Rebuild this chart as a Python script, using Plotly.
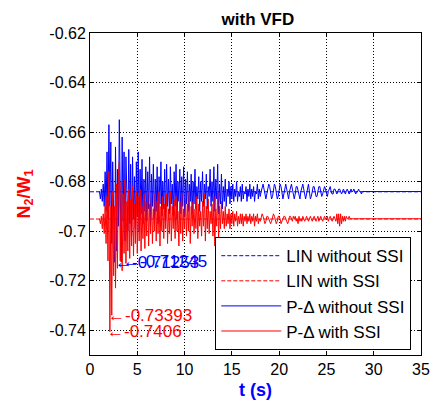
import numpy as np
import plotly.graph_objects as go

# Respuesta N2/W1 con VFD: modelos lineales y P-Delta, con y sin SSI
t_lin = [0, 35]
lin_without_ssi = [-0.6841, -0.6841]
lin_with_ssi = [-0.6951, -0.6951]

t0 = 1.0
dt = 0.1

pd_without_ssi = [
    -0.684, -0.687, -0.683, -0.688, -0.681, -0.690, -0.676, -0.692, -0.668, -0.695,
    -0.657, -0.690, -0.664, -0.705, -0.672, -0.700, -0.71253, -0.666, -0.708, -0.675,
    -0.698, -0.655, -0.702, -0.71245, -0.662, -0.696, -0.668, -0.704, -0.670, -0.694,
    -0.700, -0.667, -0.697, -0.673, -0.702, -0.670, -0.695, -0.678, -0.699, -0.672,
    -0.694, -0.668, -0.700, -0.675, -0.693, -0.671, -0.697, -0.679, -0.692, -0.674,
    -0.696, -0.676, -0.691, -0.670, -0.698, -0.677, -0.690, -0.673, -0.695, -0.679,
    -0.692, -0.674, -0.697, -0.678, -0.689, -0.672, -0.694, -0.680, -0.691, -0.675,
    -0.696, -0.673, -0.690, -0.679, -0.693, -0.674, -0.689, -0.681, -0.694, -0.676,
    -0.690, -0.673, -0.695, -0.680, -0.688, -0.675, -0.693, -0.678, -0.690, -0.674,
    -0.694, -0.679, -0.689, -0.676, -0.692, -0.681, -0.688, -0.677, -0.693, -0.680,
    -0.689, -0.675, -0.691, -0.682, -0.687, -0.678, -0.692, -0.680, -0.688, -0.676,
    -0.690, -0.681, -0.687, -0.677, -0.691, -0.682, -0.686, -0.675, -0.690, -0.680,
    -0.688, -0.674, -0.692, -0.679, -0.687, -0.673, -0.693, -0.681, -0.689, -0.677,
    -0.691, -0.682, -0.688, -0.679, -0.690, -0.683, -0.686, -0.680, -0.689, -0.682,
    -0.687, -0.681, -0.688, -0.683, -0.686, -0.680, -0.688, -0.684, -0.686, -0.682,
    -0.688, -0.681, -0.687, -0.684, -0.685, -0.682, -0.688, -0.683, -0.686, -0.681,
    -0.687, -0.683, -0.686, -0.682, -0.688, -0.684, -0.685, -0.681, -0.687, -0.683,
    -0.686, -0.684, -0.682, -0.681, -0.683, -0.686, -0.687, -0.685, -0.682, -0.681,
    -0.682, -0.684, -0.687, -0.686, -0.684, -0.681, -0.682, -0.685, -0.687, -0.686,
    -0.683, -0.681, -0.682, -0.685, -0.687, -0.685, -0.682, -0.681, -0.683, -0.686,
    -0.687, -0.684, -0.682, -0.681, -0.683, -0.686, -0.687, -0.685, -0.682, -0.682,
    -0.684, -0.686, -0.687, -0.684, -0.682, -0.681, -0.683, -0.686, -0.687, -0.685,
    -0.682, -0.681, -0.684, -0.687, -0.686, -0.684, -0.682, -0.682, -0.684, -0.686,
    -0.686, -0.684, -0.682, -0.682, -0.684, -0.686, -0.685, -0.683, -0.682, -0.683,
    -0.685, -0.686, -0.684, -0.683, -0.682, -0.684, -0.685, -0.685, -0.683, -0.683,
    -0.684, -0.685, -0.684, -0.683, -0.683, -0.684, -0.685, -0.684, -0.683, -0.684,
    -0.685, -0.684, -0.683, -0.684, -0.685, -0.684, -0.683, -0.684, -0.684, -0.683,
    -0.684, -0.685, -0.684, -0.684, -0.683, -0.684, -0.684, -0.685, -0.684, -0.684,
    -0.684,
]

pd_with_ssi = [
    -0.695, -0.697, -0.694, -0.699, -0.693, -0.701, -0.690, -0.705, -0.686, -0.712,
    -0.676, -0.7406, -0.690, -0.73393, -0.684, -0.718, -0.690, -0.723, -0.681, -0.715,
    -0.678, -0.672, -0.712, -0.680, -0.716, -0.685, -0.709, -0.679, -0.713, -0.688,
    -0.708, -0.683, -0.711, -0.687, -0.706, -0.682, -0.710, -0.689, -0.705, -0.684,
    -0.709, -0.686, -0.704, -0.683, -0.708, -0.690, -0.703, -0.685, -0.707, -0.688,
    -0.702, -0.684, -0.706, -0.689, -0.701, -0.686, -0.705, -0.691, -0.700, -0.685,
    -0.704, -0.688, -0.701, -0.684, -0.706, -0.690, -0.700, -0.686, -0.703, -0.689,
    -0.699, -0.685, -0.705, -0.691, -0.701, -0.684, -0.704, -0.690, -0.699, -0.687,
    -0.703, -0.686, -0.700, -0.692, -0.706, -0.688, -0.701, -0.685, -0.704, -0.691,
    -0.699, -0.687, -0.702, -0.689, -0.700, -0.684, -0.705, -0.690, -0.698, -0.688,
    -0.701, -0.691, -0.699, -0.686, -0.703, -0.689, -0.698, -0.692, -0.702, -0.688,
    -0.698, -0.685, -0.704, -0.690, -0.699, -0.687, -0.701, -0.692, -0.697, -0.689,
    -0.702, -0.686, -0.706, -0.691, -0.698, -0.684, -0.703, -0.690, -0.699, -0.688,
    -0.697, -0.692, -0.699, -0.690, -0.698, -0.693, -0.697, -0.691, -0.699, -0.693,
    -0.697, -0.692, -0.698, -0.693, -0.696, -0.692, -0.698, -0.694, -0.697, -0.693,
    -0.697, -0.693, -0.698, -0.694, -0.696, -0.693, -0.697, -0.694, -0.696, -0.693,
    -0.697, -0.694, -0.696, -0.693, -0.698, -0.694, -0.696, -0.693, -0.697, -0.695,
    -0.696, -0.694, -0.693, -0.694, -0.696, -0.697, -0.696, -0.694, -0.694, -0.695,
    -0.696, -0.697, -0.696, -0.694, -0.693, -0.694, -0.696, -0.697, -0.696, -0.694,
    -0.694, -0.695, -0.697, -0.696, -0.695, -0.694, -0.694, -0.695, -0.696, -0.697,
    -0.696, -0.694, -0.694, -0.695, -0.696, -0.694, -0.695, -0.694, -0.696, -0.695,
    -0.697, -0.694, -0.696, -0.695, -0.696, -0.694, -0.695, -0.696, -0.695, -0.694,
    -0.695, -0.696, -0.695, -0.694, -0.695, -0.696, -0.695, -0.694, -0.695, -0.696,
    -0.695, -0.694, -0.696, -0.695, -0.694, -0.695, -0.696, -0.695, -0.694, -0.695,
    -0.695, -0.694, -0.696, -0.695, -0.694, -0.695, -0.696, -0.695, -0.694, -0.695,
    -0.696, -0.693, -0.697, -0.693, -0.698, -0.693, -0.697, -0.694, -0.696, -0.694,
    -0.696, -0.694, -0.695, -0.695, -0.694, -0.695, -0.695, -0.695,
]

t_without = t0 + dt * np.arange(len(pd_without_ssi))
t_with = t0 + dt * np.arange(len(pd_with_ssi))

# etiquetas tipo "data tip" de MATLAB
tip_t = [2.6, 3.3, 2.3, 2.1]
tip_y = [-0.71253, -0.71245, -0.73393, -0.7406]
tip_txt = ["-0.71253", "-0.71245", "-0.73393", "-0.7406"]
tip_col = ["#0000ff", "#0000ff", "#ff0000", "#ff0000"]
tip_dx = [-2, 0, -6, -5]

y_ticks = [-0.74, -0.72, -0.70, -0.68, -0.66, -0.64, -0.62]
y_tick_txt = ["-0.74", "-0.72", "-0.7", "-0.68", "-0.66", "-0.64", "-0.62"]

fnt = "Arial, Liberation Sans, sans-serif"

fig = go.Figure()
fig.add_trace(go.Scatter(x=t_lin, y=lin_without_ssi, mode="lines", name="LIN without SSI",
                         line=dict(color="#0000ff", width=1, dash="4px,2px")))
fig.add_trace(go.Scatter(x=t_lin, y=lin_with_ssi, mode="lines", name="LIN with SSI",
                         line=dict(color="#ff0000", width=1, dash="4px,2px")))
fig.add_trace(go.Scatter(x=np.append(t_without, 35), y=pd_without_ssi + [pd_without_ssi[-1]],
                         mode="lines", name="P-\u0394 without SSI",
                         line=dict(color="#0000ff", width=1)))
fig.add_trace(go.Scatter(x=np.append(t_with, 35), y=pd_with_ssi + [pd_with_ssi[-1]],
                         mode="lines", name="P-\u0394 with SSI",
                         line=dict(color="#ff0000", width=1)))

for x, y, s, c, d in zip(tip_t, tip_y, tip_txt, tip_col, tip_dx):
    fig.add_annotation(x=x, y=y, text="\u2190" + s, showarrow=False, xanchor="left",
                       yanchor="middle", xshift=d, font=dict(family=fnt, size=17, color=c))

# la página añade 8 px de margen al cuerpo: el lienzo se reduce para compensar
fig.update_layout(
    width=425, height=392,
    margin=dict(l=82, r=3, t=25, b=45),
    paper_bgcolor="white", plot_bgcolor="white",
    font=dict(family=fnt, size=16, color="black"),
    title=dict(text="<b>with VFD</b>", x=0.588, xanchor="center", y=0.972, yanchor="middle",
               font=dict(size=17)),
    legend=dict(x=0.9706, y=0.366, xanchor="right", yanchor="top", bgcolor="white",
                bordercolor="black", borderwidth=1, font=dict(size=17), itemwidth=60),
)
fig.update_xaxes(range=[0, 35], dtick=5, showline=True, linecolor="black", mirror="ticks",
                 ticks="inside", ticklen=4, tickcolor="black", ticklabeloverflow="allow",
                 showgrid=True, gridcolor="black", griddash="1px,2px", gridwidth=1, zeroline=False,
                 title=dict(text="<b>t (s)</b>", font=dict(color="#0000ff", size=18), standoff=6))
fig.update_yaxes(range=[-0.75, -0.62], tickvals=y_ticks, ticktext=y_tick_txt, showline=True,
                 linecolor="black", mirror="ticks", ticks="inside", ticklen=4, tickcolor="black",
                 showgrid=True, gridcolor="black", griddash="1px,2px", gridwidth=1, zeroline=False,
                 title=dict(text="<b>N<sub>2</sub>/W<sub>1</sub></b>", font=dict(color="#ff0000", size=18),
                            standoff=14))

fig.write_html("out.html")
